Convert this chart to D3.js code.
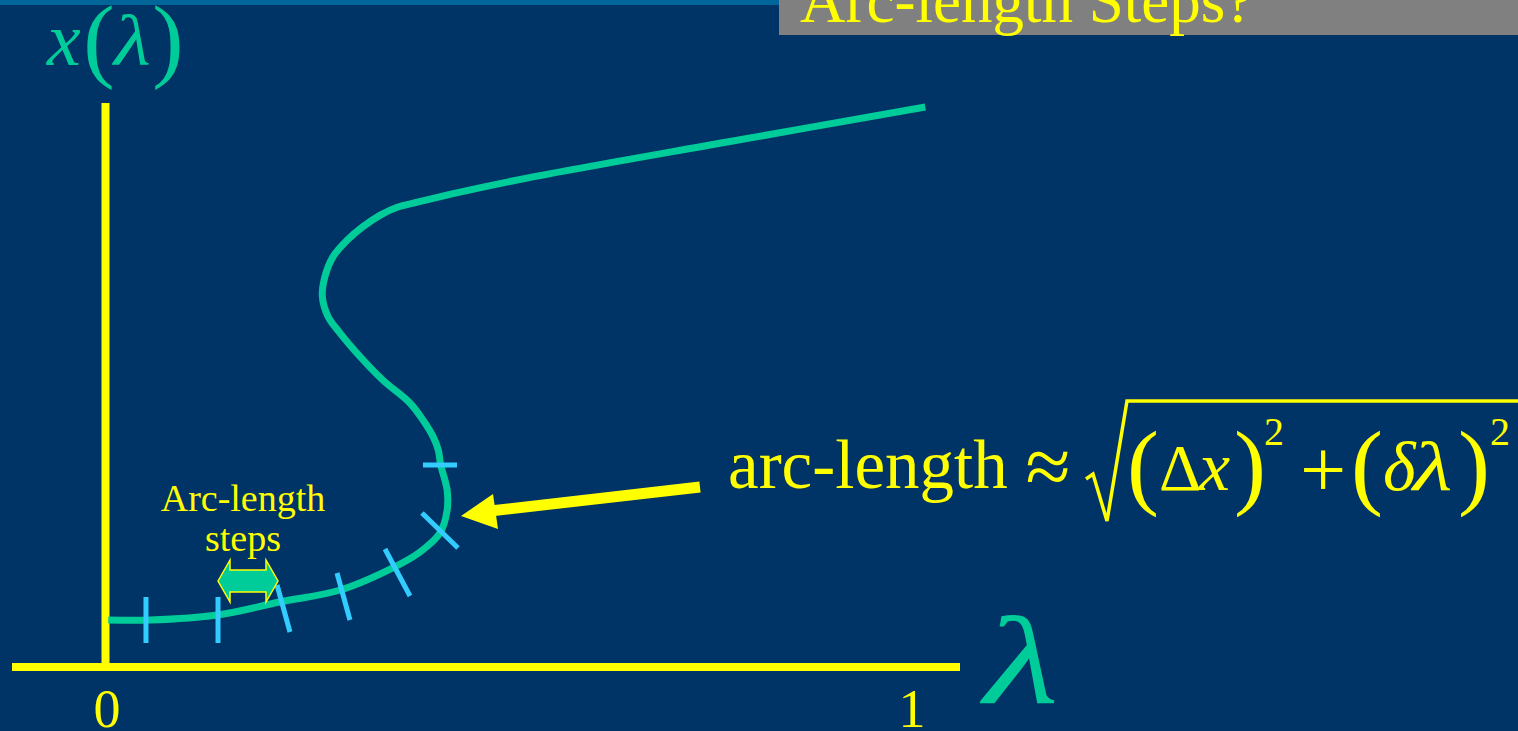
<!DOCTYPE html>
<html>
<head>
<meta charset="utf-8">
<script src="https://cdn.jsdelivr.net/npm/d3@7"></script>
<style>
  html, body { margin: 0; padding: 0; background: #003366; overflow: hidden; }
  svg text { font-family: "Liberation Serif", "Times New Roman", serif; }
</style>
</head>
<body>
<div id="main"></div>
<script>
const ctx = {
    SVG_W: 1518,
    SVG_H: 731,
};

// solution branch x(lambda)
const curveLam = [0.004, 0.056, 0.140, 0.217, 0.292, 0.360, 0.391, 0.416, 0.425, 0.425,
                  0.417, 0.414, 0.408, 0.395, 0.379, 0.345, 0.317, 0.291, 0.277, 0.270,
                  0.273, 0.283, 0.301, 0.320, 0.342, 0.363, 0.388, 0.441, 0.524, 0.771, 1.019];
const curveX   = [0.084, 0.084, 0.093, 0.116, 0.1375, 0.179, 0.205, 0.239, 0.280, 0.316,
                  0.361, 0.3875, 0.410, 0.441, 0.471, 0.5125, 0.554, 0.598, 0.626, 0.661,
                  0.696, 0.732, 0.7625, 0.786, 0.807, 0.821, 0.830, 0.848, 0.873, 0.937, 1.0];

// arc-length step marks (segment ends)
const stepLam0 = [0.0509, 0.1404, 0.2137, 0.2882, 0.3478, 0.3938, 0.3950];
const stepX0   = [0.125, 0.125, 0.1464, 0.1679, 0.2107, 0.2750, 0.3607];
const stepLam1 = [0.0509, 0.1404, 0.2298, 0.3043, 0.3789, 0.4385, 0.4373];
const stepX1   = [0.0429, 0.0429, 0.0625, 0.0839, 0.1268, 0.2125, 0.3607];

const tickVals = [0, 1];
const tickLabels = ["0", "1"];

function drawChart(svgEl) {
    const teal = "#00CC99", yellow = "#FFFF00", blue = "#33CCFF";

    let xScale = d3.scaleLinear().domain([0, 1]).range([105, 910]);
    let yScale = d3.scaleLinear().domain([0, 1]).range([667, 107]);

    // header bits
    svgEl.append("rect").attr("x", 0).attr("y", 0).attr("width", 780).attr("height", 5).style("fill", "#006699");
    svgEl.append("rect").attr("x", 779).attr("y", 0).attr("width", ctx.SVG_W - 779).attr("height", 35).style("fill", "#808080");
    svgEl.append("text").attr("x", 800).attr("y", 22)
        .style("font-size", "63px").style("fill", yellow)
        .text("Arc-length Steps?");

    // axes
    svgEl.append("line").attr("x1", 105.5).attr("x2", 105.5).attr("y1", 103).attr("y2", 667)
        .style("stroke", yellow).style("stroke-width", 8);
    svgEl.append("line").attr("x1", 12).attr("x2", 960).attr("y1", 667).attr("y2", 667)
        .style("stroke", yellow).style("stroke-width", 8);

    svgEl.selectAll(".tickLabel")
        .data(tickVals)
        .enter().append("text")
        .attr("class", "tickLabel")
        .attr("x", d => xScale(d) + 2)
        .attr("y", 727)
        .attr("text-anchor", "middle")
        .style("font-size", "54px").style("fill", yellow)
        .text((d, i) => tickLabels[i]);

    // axis titles
    let yl = svgEl.append("g").style("fill", teal);
    yl.append("text").attr("x", 47).attr("y", 65).style("font-size", "76px").style("font-style", "italic").text("x");
    yl.append("text").attr("x", 99).attr("y", 70).attr("text-anchor", "middle").style("font-size", "94px").text("(");
    yl.append("text").attr("transform", "translate(114,65) scale(1.18,1)")
        .style("font-size", "72px").style("font-style", "italic").text("λ");
    yl.append("text").attr("x", 168).attr("y", 70).attr("text-anchor", "middle").style("font-size", "94px").text(")");
    svgEl.append("text").attr("transform", "translate(984,703) scale(1.38,1)")
        .style("font-size", "125px").style("font-style", "italic").style("fill", teal)
        .text("λ");

    // curve
    let lineGen = d3.line()
        .x((d, i) => xScale(curveLam[i]))
        .y((d, i) => yScale(curveX[i]))
        .curve(d3.curveCatmullRom.alpha(0.5));
    svgEl.append("path")
        .datum(curveLam)
        .attr("d", lineGen)
        .style("fill", "none").style("stroke", teal).style("stroke-width", 7)
        .style("stroke-linecap", "butt");

    // step marks
    svgEl.selectAll(".step")
        .data(stepLam0)
        .enter().append("line")
        .attr("class", "step")
        .attr("x1", (d, i) => xScale(stepLam0[i]))
        .attr("y1", (d, i) => yScale(stepX0[i]))
        .attr("x2", (d, i) => xScale(stepLam1[i]))
        .attr("y2", (d, i) => yScale(stepX1[i]))
        .style("stroke", blue).style("stroke-width", 5);

    // double arrow + label
    let cy = 581;
    let dbl = [[218, 0], [230, -21], [230, -11], [266, -11], [266, -21], [278, 0],
               [266, 21], [266, 11], [230, 11], [230, 21]];
    svgEl.append("path")
        .attr("d", d3.line()(dbl.map(p => [p[0], cy + p[1]])) + "Z")
        .style("fill", teal).style("stroke", yellow).style("stroke-width", 1.5);
    svgEl.append("text").attr("x", 243).attr("y", 511).attr("text-anchor", "middle")
        .style("font-size", "38px").style("fill", yellow).text("Arc-length");
    svgEl.append("text").attr("x", 243).attr("y", 551).attr("text-anchor", "middle")
        .style("font-size", "38px").style("fill", yellow).text("steps");

    // big arrow
    svgEl.append("line").attr("x1", 700).attr("y1", 487).attr("x2", 490).attr("y2", 511)
        .style("stroke", yellow).style("stroke-width", 11);
    svgEl.append("path")
        .attr("d", d3.line()([[461, 516], [493, 494], [498, 529]]) + "Z")
        .style("fill", yellow);

    // formula
    let f = svgEl.append("g").style("fill", yellow);
    f.append("text").attr("x", 728).attr("y", 488).style("font-size", "69px").text("arc-length");
    f.append("text").attr("x", 1048).attr("y", 494).attr("text-anchor", "middle").style("font-size", "82px").text("≈");
    svgEl.append("path")
        .attr("d", "M1086,479 L1093,474 L1107,521 L1127,401 L1518,401")
        .style("fill", "none").style("stroke", yellow).style("stroke-width", 3.5).style("stroke-linejoin", "miter");
    f.append("text").attr("x", 1143).attr("y", 497).attr("text-anchor", "middle").style("font-size", "96px").text("(");
    f.append("text").attr("x", 1159).attr("y", 490).style("font-size", "66px").text("Δ");
    f.append("text").attr("x", 1199).attr("y", 490).style("font-size", "70px").style("font-style", "italic").text("x");
    f.append("text").attr("x", 1250).attr("y", 497).attr("text-anchor", "middle").style("font-size", "96px").text(")");
    f.append("text").attr("x", 1274).attr("y", 445).attr("text-anchor", "middle").style("font-size", "40px").text("2");
    f.append("text").attr("x", 1323).attr("y", 497).attr("text-anchor", "middle").style("font-size", "82px").text("+");
    f.append("text").attr("x", 1367).attr("y", 497).attr("text-anchor", "middle").style("font-size", "96px").text("(");
    f.append("text").attr("x", 1383).attr("y", 490).style("font-size", "70px").style("font-style", "italic").text("δ");
    f.append("text").attr("transform", "translate(1413,490) scale(1.3,1)")
        .style("font-size", "70px").style("font-style", "italic").text("λ");
    f.append("text").attr("x", 1474).attr("y", 497).attr("text-anchor", "middle").style("font-size", "96px").text(")");
    f.append("text").attr("x", 1500).attr("y", 445).attr("text-anchor", "middle").style("font-size", "40px").text("2");
}

function createViz() {
    let svgEl = d3.select("#main").append("svg");
    svgEl.attr("width", ctx.SVG_W);
    svgEl.attr("height", ctx.SVG_H);
    svgEl.append("rect").attr("width", ctx.SVG_W).attr("height", ctx.SVG_H).style("fill", "#003366");
    drawChart(svgEl);
}

createViz();
</script>
</body>
</html>
